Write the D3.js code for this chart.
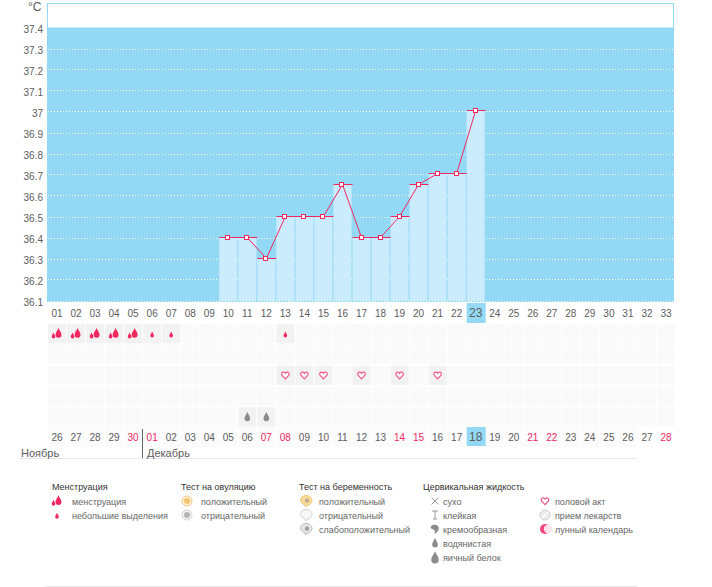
<!DOCTYPE html>
<html>
<head>
<meta charset="utf-8">
<script src="https://cdnjs.cloudflare.com/ajax/libs/d3/7.8.5/d3.min.js"></script>
<style>
  html, body { margin: 0; padding: 0; background: #fff; }
  svg { display: block; }
  text { font-family: "Liberation Sans", sans-serif; font-size: 10px; fill: #5c5c5c; }
</style>
</head>
<body>
<svg id="chart"></svg>
<script>
const cycleDays = ["01","02","03","04","05","06","07","08","09","10","11","12","13","14","15","16","17","18","19","20","21","22","23","24","25","26","27","28","29","30","31","32","33"];
const calendarDays = ["26","27","28","29","30","01","02","03","04","05","06","07","08","09","10","11","12","13","14","15","16","17","18","19","20","21","22","23","24","25","26","27","28"];
const redDays = [4, 5, 11, 12, 18, 19, 25, 26, 32];
const tempDays = ["10","11","12","13","14","15","16","17","18","19","20","21","22","23"];
const tempValues = [36.4, 36.4, 36.3, 36.5, 36.5, 36.5, 36.65, 36.4, 36.4, 36.5, 36.65, 36.7, 36.7, 37];
const yTicks = [36.1, 36.2, 36.3, 36.4, 36.5, 36.6, 36.7, 36.8, 36.9, 37, 37.1, 37.2, 37.3, 37.4];
const today = "23";
const heavyDays = ["01","02","03","04","05"];
const lightDays = ["06","07","13"];
const heartDays = ["13","14","15","17","19","21"];
const waterDays = ["11","12"];

const width = 712, height = 587;
const blue = "#93d9f5", pink = "#f0285f";

const svg = d3.select("#chart").attr("width", width).attr("height", height);

const x = d3.scaleBand().domain(cycleDays).range([48, 675]).paddingInner(1 / 19).paddingOuter(0).align(0);
const y = d3.scaleLinear().domain([36.1, 37.4]).range([300.5, 27.5]);
const rowY = d3.scaleBand().domain([0, 1, 2, 3, 4]).range([324, 426.5]).paddingInner(0.07);
// marks sit one pixel above the grid line in the original
const markY = v => Math.round(y(v)) - 0.5;

// plot frame and blue field
svg.append("rect").attr("x", 47.5).attr("y", 3.5).attr("width", 626).attr("height", 298)
  .attr("fill", "#fff").attr("stroke", blue);
svg.append("rect").attr("x", 47).attr("y", y(37.4)).attr("width", 627).attr("height", y(36.1) - y(37.4) + 0.5)
  .attr("fill", blue);

// dotted grid
svg.append("g").selectAll("line").data(yTicks.filter(t => t < 37.4)).join("line")
  .attr("x1", 48).attr("x2", 674)
  .attr("y1", d => Math.round(y(d)) + 0.5).attr("y2", d => Math.round(y(d)) + 0.5)
  .attr("stroke", "#fff").attr("stroke-dasharray", "1,2");

// bars
svg.append("g").selectAll("rect").data(tempDays).join("rect")
  .attr("x", d => x(d))
  .attr("y", (d, i) => markY(tempValues[i]))
  .attr("width", x.bandwidth())
  .attr("height", (d, i) => 301 - markY(tempValues[i]))
  .attr("fill", "#cbecfd");

// y axis
const yAxis = d3.axisLeft(y).tickValues(yTicks).tickSize(0).tickPadding(4).tickFormat(d => String(d));
const yg = svg.append("g").attr("transform", "translate(47,0)").call(yAxis);
yg.select(".domain").remove();
yg.selectAll("text").attr("dy", "0.52em").style("font-size", "10px").style("font-family", "inherit");
svg.append("text").attr("x", 28).attr("y", 11).style("font-size", "12px").text("°C");

// temperature caps and line
svg.append("g").selectAll("line").data(tempDays).join("line")
  .attr("x1", d => x(d)).attr("x2", d => x(d) + x.bandwidth() + 1)
  .attr("y1", (d, i) => markY(tempValues[i])).attr("y2", (d, i) => markY(tempValues[i]))
  .attr("stroke", pink);

const line = d3.line().x(d => x(d) + x.bandwidth() / 2).y((d, i) => markY(tempValues[i]));
svg.append("path").attr("d", line(tempDays)).attr("fill", "none").attr("stroke", pink);

svg.append("g").selectAll("rect").data(tempDays).join("rect")
  .attr("x", d => Math.round(x(d) + x.bandwidth() / 2) - 2.5)
  .attr("y", (d, i) => markY(tempValues[i]) - 2)
  .attr("width", 4).attr("height", 4)
  .attr("fill", "#fff").attr("stroke", pink);

// day labels
svg.append("rect").attr("x", x(today)).attr("y", 303).attr("width", 19).attr("height", 20).attr("fill", blue);
svg.append("g").selectAll("text").data(cycleDays).join("text")
  .attr("x", d => x(d) + x.bandwidth() / 2).attr("y", 317)
  .attr("text-anchor", "middle")
  .style("font-size", d => d === today ? "12px" : "10px")
  .text(d => d);

// symbol grid
const grid = svg.append("g");
rowY.domain().forEach(r => {
  grid.selectAll(null).data(cycleDays).join("rect")
    .attr("x", d => x(d)).attr("y", rowY(r))
    .attr("width", x.bandwidth()).attr("height", rowY.bandwidth())
    .attr("fill", d => {
      const on = (r === 0 && (heavyDays.includes(d) || lightDays.includes(d))) ||
        (r === 2 && heartDays.includes(d)) || (r === 4 && waterDays.includes(d));
      return on ? "#f2f2f2" : "#fafafb";
    });
});

// bottom date row
svg.append("g").selectAll("rect").data(calendarDays.slice(0, 31)).join("rect")
  .attr("x", (d, i) => x(cycleDays[i])).attr("y", 427)
  .attr("width", x.bandwidth()).attr("height", 20).attr("fill", "#fbfbfc");
svg.append("rect").attr("x", x(today)).attr("y", 427).attr("width", 19).attr("height", 19).attr("fill", blue);
svg.append("g").selectAll("text").data(calendarDays).join("text")
  .attr("x", (d, i) => x(cycleDays[i]) + x.bandwidth() / 2).attr("y", 441)
  .attr("text-anchor", "middle")
  .style("font-size", (d, i) => cycleDays[i] === today ? "12px" : "10px")
  .style("fill", (d, i) => redDays.includes(i) ? pink : "#5c5c5c")
  .text(d => d);

svg.append("line").attr("x1", 20).attr("x2", 637).attr("y1", 458.5).attr("y2", 458.5).attr("stroke", "#e8e8e8");
svg.append("line").attr("x1", 45).attr("x2", 637).attr("y1", 586.5).attr("y2", 586.5).attr("stroke", "#e8e8e8");
svg.append("line").attr("x1", 142.5).attr("x2", 142.5).attr("y1", 429).attr("y2", 458).attr("stroke", "#666");
svg.append("text").attr("x", 21).attr("y", 457).style("font-size", "11px").text("Ноябрь");
svg.append("text").attr("x", 147).attr("y", 457).style("font-size", "11px").text("Декабрь");

// icons, all centred on 0,0
const dropPath = "M0,-4.5C1,-2 2.6,-0.6 2.6,1.4A2.6,2.6 0 0 1 -2.6,1.4C-2.6,-0.6 -1,-2 0,-4.5Z";
const heartPath = "M0,3.6L-3.3,0.2C-4.6,-1.6 -3.2,-3.3 -1.6,-3.1C-0.8,-3 -0.3,-2.5 0,-2C0.3,-2.5 0.8,-3 1.6,-3.1C3.2,-3.3 4.6,-1.6 3.3,0.2Z";

function drawHeavy(g) {
  g.append("path").attr("d", dropPath).attr("transform", "translate(1.5,-0.5) scale(1.15)").attr("fill", pink);
  g.append("path").attr("d", dropPath).attr("transform", "translate(-3.5,2) scale(0.7)").attr("fill", pink);
}
function drawLight(g) {
  g.append("path").attr("d", dropPath).attr("transform", "translate(0,1) scale(0.7)").attr("fill", pink);
}
function drawHeart(g) {
  g.append("path").attr("d", heartPath).attr("fill", "#fff").attr("stroke", "#f2558a").attr("stroke-width", 1.2);
}
function drawWater(g) {
  g.append("path").attr("d", dropPath).attr("transform", "scale(1.1)").attr("fill", "#8c8c8c");
}
function drawEgg(g) {
  g.append("path").attr("d", dropPath).attr("transform", "scale(1.45) translate(0,0.5)").attr("fill", "#8c8c8c");
}
function drawDry(g) {
  g.append("path").attr("d", "M-3.5,-3.5L3.5,3.5M3.5,-3.5L-3.5,3.5").attr("stroke", "#999").attr("fill", "none");
}
function drawSticky(g) {
  g.append("path").attr("d", "M-3,-4H3M0,-4V4M-2,4H2").attr("stroke", "#999").attr("fill", "none");
}
function drawCreamy(g) {
  g.append("path").attr("d", "M-4,-3C-1,-5.5 4,-4.5 3.8,-0.5C3.7,2 1.5,4 -0.5,5C0.5,2.5 0,0.5 -3,0C-4.3,-0.5 -4.5,-2 -4,-3Z").attr("fill", "#8c8c8c");
}
function drawCircle(g, ring, fill, inner) {
  g.append("circle").attr("r", 5).attr("fill", fill).attr("stroke", ring);
  g.append("circle").attr("r", 3).attr("fill", inner);
}
function drawOvuPos(g) { drawCircle(g, "#f0c878", "#fff4dd", "#f3c370"); }
function drawOvuNeg(g) { drawCircle(g, "#d4d4d4", "#f2f2f2", "#b4b4b4"); }
function drawPreg(g, fill, ring, dot) {
  g.append("path").attr("d", "M-5.5,-1.5C-5.5,-4 -2.5,-5.5 0,-5.5C3,-5.5 6,-3.5 6,-0.5C6,2.5 2.5,4.5 0.8,4.5L-0.5,6L-1,4C-3.5,3.5 -5.5,1 -5.5,-1.5Z")
    .attr("fill", fill).attr("stroke", ring);
  if (dot) g.append("circle").attr("cx", 1).attr("cy", -0.5).attr("r", 2.2).attr("fill", dot);
}
function drawPregPos(g) { drawPreg(g, "#fbdc9c", "#f0c878", "#bfae8e"); }
function drawPregNeg(g) { drawPreg(g, "#f6f6f6", "#d4d4d4", null); }
function drawPregWeak(g) { drawPreg(g, "#e6e6e6", "#bdbdbd", "#a0a0a0"); }
function drawPill(g) {
  g.append("circle").attr("r", 5).attr("fill", "#ececec").attr("stroke", "#d2d2d2");
  g.append("line").attr("x1", -3).attr("y1", 3).attr("x2", 3).attr("y2", -3).attr("stroke", "#fff").attr("stroke-width", 1.5);
}
function drawMoon(g) {
  g.append("circle").attr("r", 5).attr("fill", "#f2447f");
  g.append("circle").attr("cx", 3).attr("r", 4.2).attr("fill", "#fbe6ee");
}

function cellIcons(days, row, draw) {
  days.forEach(d => {
    const g = grid.append("g")
      .attr("transform", `translate(${x(d) + x.bandwidth() / 2},${rowY(row) + rowY.bandwidth() / 2})`);
    draw(g);
  });
}
cellIcons(heavyDays, 0, drawHeavy);
cellIcons(lightDays, 0, drawLight);
cellIcons(heartDays, 2, drawHeart);
cellIcons(waterDays, 4, drawWater);

// legend
const legendHeads = ["Менструация", "Тест на овуляцию", "Тест на беременность", "Цервикальная жидкость"];
const legendHeadX = [52, 181, 299, 423];
const legendColumns = [
  { iconX: 57, textX: 72, items: [["менструация", drawHeavy], ["небольшие выделения", drawLight]] },
  { iconX: 187, textX: 201, items: [["положительный", drawOvuPos], ["отрицательный", drawOvuNeg]] },
  { iconX: 306, textX: 319, items: [["положительный", drawPregPos], ["отрицательный", drawPregNeg], ["слабоположительный", drawPregWeak]] },
  { iconX: 435, textX: 443, items: [["сухо", drawDry], ["клейкая", drawSticky], ["кремообразная", drawCreamy], ["водянистая", drawWater], ["яичный белок", drawEgg]] },
  { iconX: 545, textX: 555, items: [["половой акт", drawHeart], ["прием лекарств", drawPill], ["лунный календарь", drawMoon]] }
];
const legendRowY = d3.scaleLinear().domain([0, 4]).range([501, 557]);

svg.append("g").selectAll("text").data(legendHeads).join("text")
  .attr("x", (d, i) => legendHeadX[i]).attr("y", 490)
  .style("fill", "#333").style("font-size", "9px").text(d => d);

legendColumns.forEach(col => {
  col.items.forEach((item, i) => {
    const g = svg.append("g").attr("transform", `translate(${col.iconX},${legendRowY(i)})`);
    item[1](g);
    svg.append("text").attr("x", col.textX).attr("y", legendRowY(i) + 3.5).style("font-size", "9px").style("fill", "#666").text(item[0]);
  });
});
</script>
</body>
</html>
